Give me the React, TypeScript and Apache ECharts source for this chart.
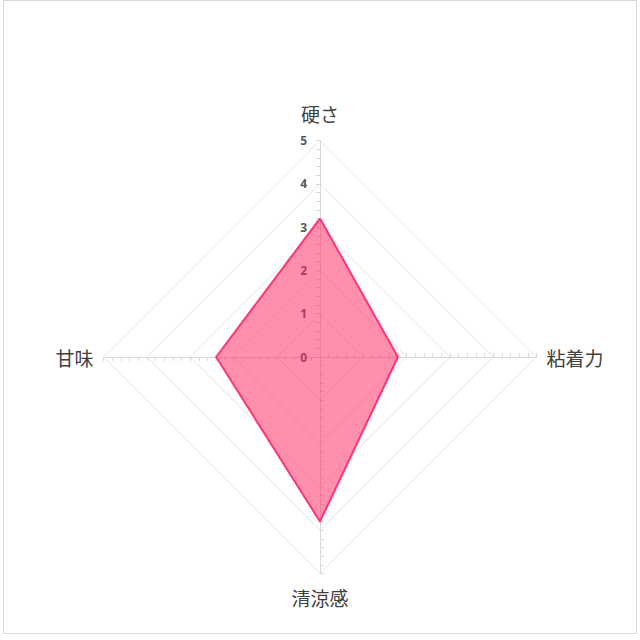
import * as echarts from 'echarts';
import { useEffect, useRef } from 'react';

// order goes counterclockwise from the top in ECharts
const indicators = ['硬さ', '甘味', '清涼感', '粘着力'];
const values = [3.2, 2.4, 3.8, 1.8];
const maxValue = 5;
const tickLabels = ['0', '1', '2', '3', '4', '5'];
const nameGaps = [18, 10, 14, 10];

const App = () => {
    const chartRef = useRef(null);

    useEffect(() => {
        document.body.style.margin = '0';
        const chart = echarts.init(chartRef.current, null, { renderer: 'svg' });

        const isWhole = (v: number) => Math.abs(v - Math.round(v)) < 1e-6;

        const option = {
            animation: false,
            backgroundColor: '#fff',
            graphic: [
                {
                    type: 'rect',
                    shape: { x: 3.5, y: 0.5, width: 633, height: 633 },
                    style: { fill: 'none', stroke: '#d9d9d9', lineWidth: 1 },
                },
            ],
            radar: {
                center: [320, 357],
                radius: 216.5,
                startAngle: 90,
                shape: 'polygon',
                splitNumber: 25,
                nameGap: 12,
                axisName: {
                    color: '#404040',
                    fontSize: 19,
                    fontFamily: 'Noto Sans CJK JP',
                },
                indicator: indicators.map((name, i) => ({
                    name,
                    min: 0,
                    max: maxValue,
                    nameGap: nameGaps[i],
                    axisLabel: i === 0 ? { show: true } : { show: false },
                })),
                axisLine: { lineStyle: { color: '#d9d9d9', width: 1 } },
                axisTick: { show: true, inside: true, length: 4, lineStyle: { color: '#d9d9d9' } },
                axisLabel: {
                    show: false,
                    color: '#595959',
                    fontSize: 12,
                    fontWeight: 'bold',
                    fontFamily: 'Noto Sans',
                    margin: 13,
                    formatter: (v: number) => (isWhole(v) ? tickLabels[Math.round(v)] : ''),
                },
                splitLine: {
                    lineStyle: {
                        color: ['#e3e3e3', 'rgba(0,0,0,0)', 'rgba(0,0,0,0)', 'rgba(0,0,0,0)', 'rgba(0,0,0,0)'],
                        width: 1,
                    },
                },
                splitArea: { show: false },
            },
            series: [
                {
                    type: 'radar',
                    symbol: 'none',
                    data: [
                        {
                            value: values,
                            lineStyle: { color: '#ff3d7f', width: 2 },
                            areaStyle: { color: '#ff1f5b', opacity: 0.5 },
                        },
                    ],
                },
            ],
        };

        chart.setOption(option);

        return () => {
            chart.dispose();
        };
    }, []);

    return <div ref={chartRef} style={{ width: '640px', height: '640px' }} />;
};

export default App;
